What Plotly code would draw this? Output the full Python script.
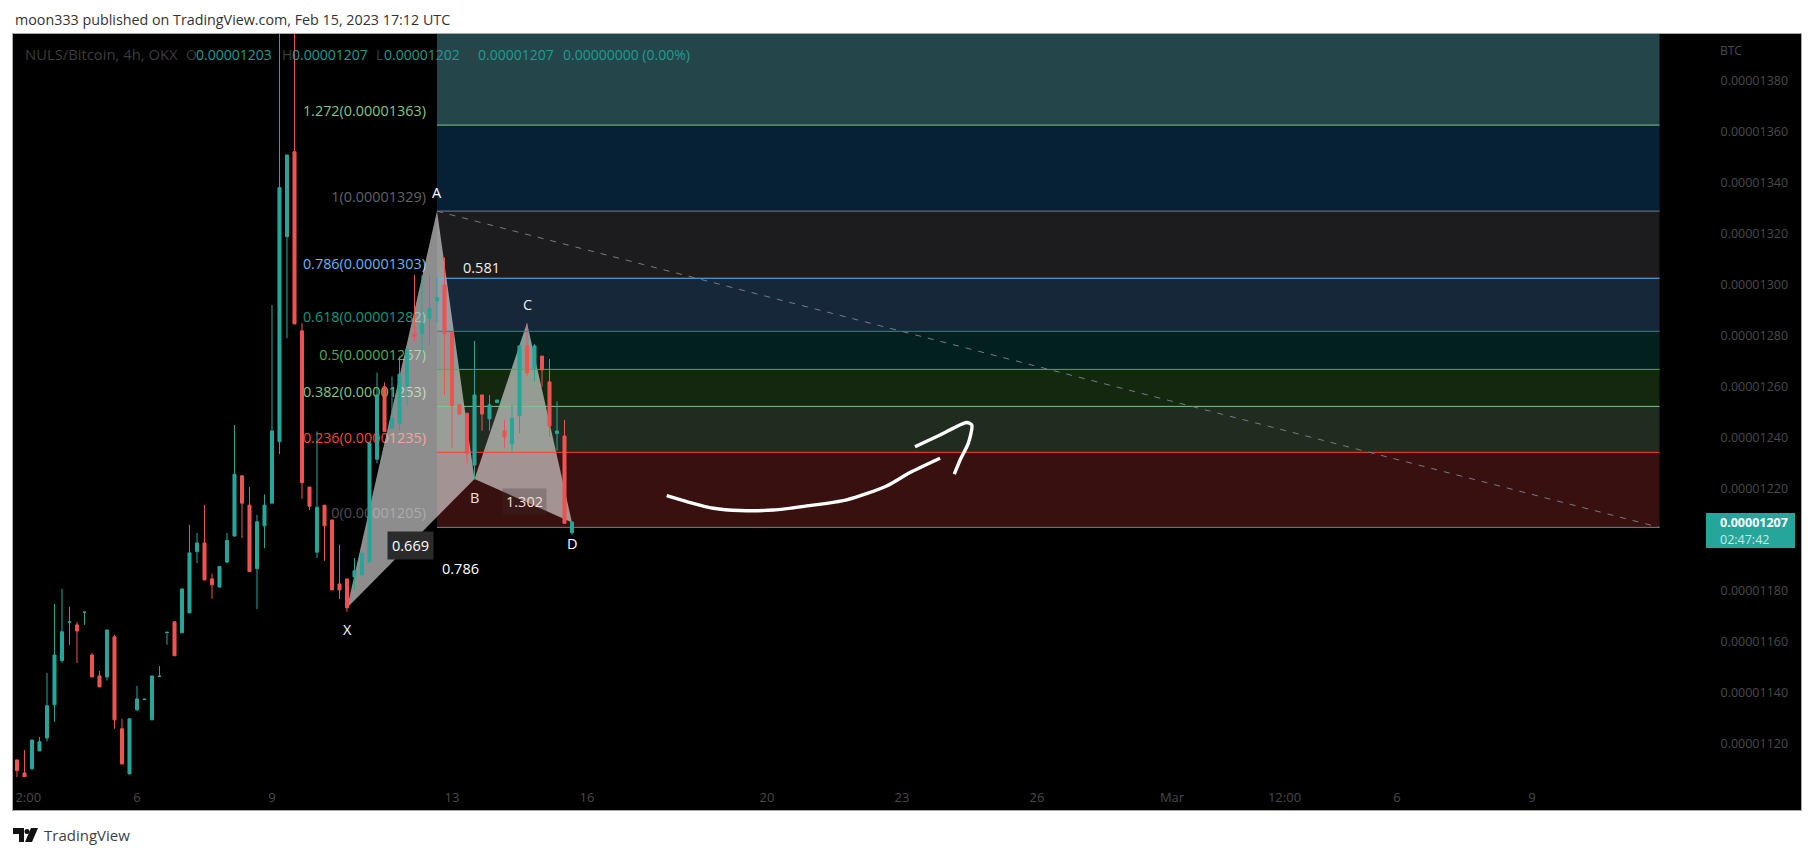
import pandas as pd
import plotly.graph_objects as go

# Prices are in units of 1e-8 BTC
opens = [1113.8,1108.7,1110.3,1117.3,1122.4,1135.4,1152.7,1167.8,1166.7,1171.6,1154.9,1146.7,1146.3,1162.0,1126.0,1108.3,1133.4,1137.5,1129.5,1146.5,
         1163.7,1167.9,1163.6,1171.4,1195.4,1198.8,1184.7,1181.5,1191.3,1201.5,1225.1,1213.6,1188.7,1205.5,1214.4,1238.5,1318.8,1352.1,1281.9,1220.7,
         1195.2,1213.6,1207.8,1182.7,1184.7,1185.5,1186.3,1191.4,1231.6,1260.0,1243.7,1245.7,1260.4,1280.9,1280.9,1286.8,1293.7,1299.9,1281.2,1252.9,
         1249.6,1229.3,1256.8,1247.4,1253.8,1242.7,1237.6,1248.7,1276.0,1267.2,1272.0,1261.9,1241.7,1240.7,1202.8]
highs = [1113.8,1117.7,1121.6,1122.8,1147.9,1174.9,1180.8,1173.8,1167.9,1171.7,1155.7,1148.7,1164.7,1162.8,1129.9,1129.9,1142.8,1137.6,1146.7,1150.6,
         1163.8,1167.9,1180.8,1205.9,1202.7,1213.6,1186.7,1189.6,1202.7,1245.0,1225.1,1220.7,1209.8,1217.8,1292.0,1420.0,1350.8,1420.0,1285.0,1220.7,
         1242.5,1213.6,1207.8,1198.1,1184.7,1192.9,1194.8,1238.0,1265.6,1261.7,1264.0,1271.8,1274.7,1303.8,1303.8,1303.8,1303.0,1310.7,1281.2,1252.9,
         1249.6,1277.9,1256.8,1256.8,1254.8,1247.0,1252.9,1276.0,1284.8,1276.7,1272.0,1270.9,1254.2,1247.0,1207.0]
lows = [1107.0,1106.0,1109.9,1117.3,1121.0,1128.7,1151.9,1158.9,1151.8,1166.7,1146.3,1142.4,1144.9,1126.0,1112.2,1108.3,1133.0,1137.5,1129.5,1146.5,
        1158.9,1154.6,1163.6,1171.4,1190.9,1184.3,1176.9,1181.5,1190.9,1201.5,1200.7,1187.6,1172.9,1196.8,1214.4,1233.6,1279.0,1284.6,1216.1,1211.7,
        1192.9,1191.8,1180.4,1176.8,1171.8,1180.4,1186.3,1191.4,1230.0,1242.4,1243.7,1243.0,1252.9,1278.0,1273.0,1276.4,1285.0,1256.8,1236.1,1248.9,
        1230.0,1223.7,1242.8,1242.8,1253.8,1236.1,1233.9,1241.8,1264.0,1262.0,1260.0,1240.4,1235.0,1206.5,1202.0]
closes = [1109.6,1107.0,1121.6,1120.9,1135.0,1154.9,1164.0,1167.9,1164.3,1171.7,1146.3,1142.4,1164.7,1129.5,1112.2,1129.9,1137.7,1137.6,1146.7,1146.6,
          1163.8,1154.6,1180.8,1194.9,1198.8,1184.3,1182.4,1189.6,1199.8,1225.7,1214.4,1187.6,1207.1,1213.6,1242.7,1338.0,1350.8,1284.6,1222.4,1213.2,
          1212.8,1205.5,1180.4,1180.4,1173.4,1187.9,1194.8,1238.0,1256.8,1242.4,1247.6,1264.9,1274.7,1279.6,1284.8,1290.7,1294.9,1280.9,1252.6,1249.3,
          1233.9,1256.8,1249.3,1252.9,1254.8,1240.4,1247.6,1276.0,1265.5,1276.0,1266.6,1244.6,1242.7,1206.5,1207.0]
first_bar = "2023-02-03 08:00"

fib_names = ["0", "0.236", "0.382", "0.5", "0.618", "0.786", "1", "1.272"]
fib_prices = [1205, 1235, 1253, 1267, 1282, 1303, 1329, 1363]
fib_drawn = [1204.9, 1234.3, 1252.3, 1266.8, 1281.7, 1302.5, 1328.8, 1362.5]
fib_line_colors = ["#787b86", "#f44336", "#81c784", "#4caf50", "#089981", "#64b5f6", "#787b86", "#81c784"]
fib_zone_colors = ["#37100f", "#202c20", "#142810", "#02201d", "#16273a", "#1c1c1e", "#062035", "#24464a"]
fib_zone_top = 1420
fib_start_bar = 56
fib_end_bar = 219

pattern_bars = [44, 56, 61, None, 61, 68, 74]
pattern_prices = [1173.3, 1328.9, 1223.9, None, 1223.9, 1285.0, 1206.8]

arrow_hours = [282.5,293.2,307.4,321.6,339.4,357.2,378.5,399.8,412.3,428.3]
arrow_prices = [1217.3,1215.0,1212.4,1211.5,1211.7,1213.3,1215.7,1221.1,1226.4,1232.0]
head_hours = [414.9,428.3,442.5,445.2,443.4,439.0,435.9]
head_prices = [1236.5,1241.1,1246.0,1245.0,1237.9,1231.3,1225.8]

price_ticks = [1120,1140,1160,1180,1220,1240,1260,1280,1300,1320,1340,1360,1380]
time_ticks = ["2023-02-03 14:00","2023-02-06","2023-02-09","2023-02-13","2023-02-16","2023-02-20","2023-02-23",
              "2023-02-26","2023-03-01","2023-03-03 12:00","2023-03-06","2023-03-09"]
time_labels = ["2:00","6","9","13","16","20","23","26","Mar","12:00","6","9"]

W, H = 1814, 856
L, R, T, B = 13, 1706, 34, 777
FONT = "Open Sans"
DIM = "#4a4a4a"
UP, DOWN = "#26a69a", "#ef5350"
SC = 1e-8

base = pd.Timestamp("2023-02-06")
def hours(h):
    return base + pd.Timedelta(hours=h)
bar_times = pd.date_range(first_bar, periods=len(opens), freq="4h")
start = pd.Timestamp(first_bar)
def bar_time(i):
    return None if i is None else start + pd.Timedelta(hours=4 * i)
def sc(v):
    return [None if a is None else a * SC for a in v]
def fx(p):
    return (p - L) / (R - L)
def fy(p):
    return (B - p) / (B - T)

fig = go.Figure()

# fib labels, under the pattern
for n, lab_p, d, c in zip(fib_names, fib_prices, fib_drawn, fib_line_colors):
    txt = f"{n}(0.0000{lab_p})"
    col = {"1": "#5f626b", "0": "#4c4f58"}.get(n, c)
    fig.add_trace(go.Scatter(x=[hours(154.1)], y=[(d + 5.0) * SC], mode="text", text=[txt],
                             textposition="middle left", textfont=dict(family=FONT, size=14.4, color=col),
                             showlegend=False, hoverinfo="skip", zorder=0))

fig.add_trace(go.Scatter(x=[bar_time(i) for i in pattern_bars], y=sc(pattern_prices), mode="lines",
                         fill="toself", fillcolor="rgba(235,235,235,0.6)", line=dict(width=0),
                         showlegend=False, hoverinfo="skip", zorder=1))

# fib lines and trend line
for d, c in zip(fib_drawn, fib_line_colors):
    fig.add_trace(go.Scatter(x=[bar_time(fib_start_bar), bar_time(fib_end_bar)], y=[d * SC, d * SC], mode="lines",
                             line=dict(color=c, width=1), showlegend=False, hoverinfo="skip", zorder=2))
fig.add_trace(go.Scatter(x=[bar_time(fib_start_bar), bar_time(fib_end_bar)], y=[fib_drawn[6] * SC, fib_drawn[0] * SC],
                         mode="lines", line=dict(color="#787b86", width=1, dash="6px,7px"),
                         showlegend=False, hoverinfo="skip", zorder=2))

fig.add_trace(go.Candlestick(x=bar_times, open=sc(opens), high=sc(highs), low=sc(lows), close=sc(closes),
                             increasing=dict(line=dict(color=UP, width=1), fillcolor=UP),
                             decreasing=dict(line=dict(color=DOWN, width=1), fillcolor=DOWN),
                             whiskerwidth=0, showlegend=False, hoverinfo="skip", zorder=3))

fig.add_trace(go.Scatter(x=[hours(h) for h in arrow_hours], y=sc(arrow_prices), mode="lines",
                         line=dict(color="white", width=3.4, shape="spline", smoothing=0.7), showlegend=False, hoverinfo="skip", zorder=4))
fig.add_trace(go.Scatter(x=[hours(h) for h in head_hours], y=sc(head_prices), mode="lines",
                         line=dict(color="white", width=3.4, shape="spline", smoothing=0.7), showlegend=False, hoverinfo="skip", zorder=4))

shapes = [dict(type="rect", xref="paper", yref="paper", x0=fx(12.5), x1=fx(1801.5), y0=fy(810.5), y1=fy(33.5),
               fillcolor="black", line=dict(color="#a8a8a8", width=1), layer="below")]
tops = fib_drawn[1:] + [fib_zone_top]
for b, t, c in zip(fib_drawn, tops, fib_zone_colors):
    shapes.append(dict(type="rect", xref="x", yref="y", x0=bar_time(fib_start_bar), x1=bar_time(fib_end_bar),
                       y0=b * SC, y1=t * SC, fillcolor=c, line=dict(width=0), layer="below"))
# current price tag
shapes.append(dict(type="rect", xref="paper", yref="paper", x0=fx(1706), x1=fx(1795), y0=fy(548), y1=fy(513),
                   fillcolor=UP, line=dict(width=0), layer="above"))
# logo
def pts(*xy):
    return "M" + " L".join(f"{fx(a)},{fy(b)}" for a, b in xy) + " Z"
shapes += [
    dict(type="path", xref="paper", yref="paper", path=pts((13,828),(24,828),(24,842),(19,842),(19,834),(13,834)),
         fillcolor="#111111", line=dict(width=0), layer="above"),
    dict(type="circle", xref="paper", yref="paper", x0=fx(24.5), x1=fx(29.5), y0=fy(834), y1=fy(829),
         fillcolor="#111111", line=dict(width=0), layer="above"),
    dict(type="path", xref="paper", yref="paper", path=pts((31,828),(38,828),(32,842),(25,842)),
         fillcolor="#111111", line=dict(width=0), layer="above"),
]

def note(x, y, text, color="white", size=14.5, anchor="center", **kw):
    return dict(x=fx(x), y=fy(y), xref="paper", yref="paper", text=text, showarrow=False, xanchor=anchor, yanchor="middle",
                font=dict(family=FONT, size=size, color=color), **kw)

TEAL = "#1f9d90"
LEG = "#3c3c3c"
ann = [
    note(13, 20, "moon333 published on TradingView.com, Feb 15, 2023 17:12 UTC", "#333333", 14.3, "left"),
    note(23, 54, "NULS/Bitcoin, 4h, OKX", LEG, 14.8, "left"),
    note(184, 54, "O", LEG, 14, "left"), note(194, 54, "0.00001203", TEAL, 14, "left"),
    note(280, 54, "H", LEG, 14, "left"), note(290, 54, "0.00001207", TEAL, 14, "left"),
    note(374, 54, "L", LEG, 14, "left"), note(382, 54, "0.00001202", TEAL, 14, "left"),
    note(467, 54, "C", LEG, 14, "left"), note(476, 54, "0.00001207", TEAL, 14, "left"),
    note(561, 54, "0.00000000 (0.00%)", TEAL, 14, "left"),
    note(437, 192, "A"), note(474, 497, "B", "#f5e0e0"), note(527, 304, "C", "#e8eef5"),
    note(572, 543, "D"), note(347, 629, "X"),
    note(481, 267, "0.581", "#eeeeee"),
    note(460, 568, "0.786"),
    note(410, 545, "0.669", "white", 14.5, bgcolor="#2b2b2b", borderpad=4),
    note(524, 501, "1.302", "#f3dedc", 14.5, bgcolor="rgba(60,50,50,0.28)", borderpad=3),
    note(1718, 50, "BTC", DIM, 12, "left"),
    note(1718, 522, "<b>0.00001207</b>", "white", 12.5, "left"),
    note(1718, 539, "02:47:42", "#c4ebe6", 12.5, "left"),
    note(42, 835, "TradingView", "#3f3f3f", 15, "left"),
]

fig.update_layout(
    width=W, height=H, margin=dict(l=L, r=W - R, t=T, b=H - B), autosize=False,
    paper_bgcolor="white", plot_bgcolor="black", showlegend=False, boxgap=0.42,
    shapes=shapes, annotations=ann,
    font=dict(family=FONT),
    xaxis=dict(type="date", range=[hours(-66.13), hours(836.8)], rangeslider=dict(visible=False), showgrid=False, zeroline=False,
               tickmode="array", tickvals=time_ticks, ticktext=time_labels, ticks="outside", ticklen=8, tickcolor="rgba(0,0,0,0)",
               tickfont=dict(family=FONT, size=13, color=DIM), showline=True, linecolor="#555555", linewidth=1),
    yaxis=dict(side="right", range=[1107.1 * SC, 1398.2 * SC], showgrid=False, zeroline=False, tickmode="array",
               tickvals=sc(price_ticks), ticktext=[f"0.0000{p}" for p in price_ticks], ticks="outside", ticklen=11,
               tickcolor="rgba(0,0,0,0)", tickfont=dict(family=FONT, size=12.5, color=DIM), showline=True,
               linecolor="#666666", linewidth=1),
)

fig.write_html("out.html", post_script="document.body.style.margin='0';", config=dict(displayModeBar=False))
